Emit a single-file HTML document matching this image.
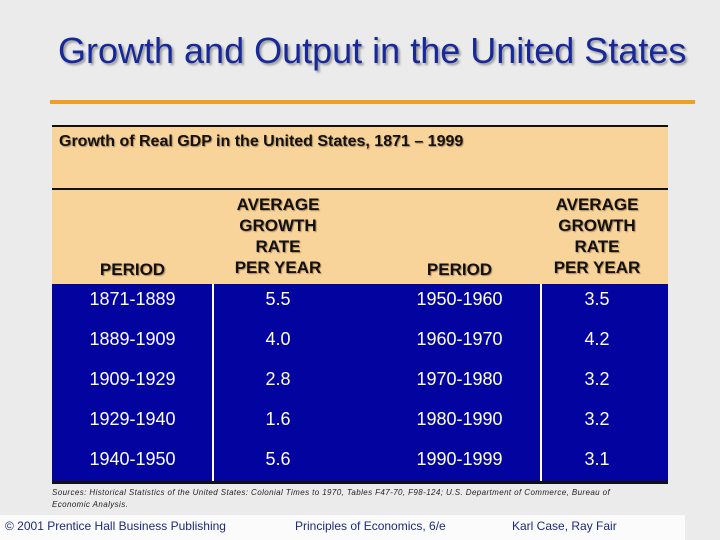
<!DOCTYPE html>
<html><head><meta charset="utf-8"><style>
body{margin:0;width:720px;height:540px;overflow:hidden;background:#ebebeb;font-family:"Liberation Sans",sans-serif;position:relative}
.a{position:absolute}
.t{font-size:36px;color:#16289a;text-shadow:2px 2px 2px #999;left:58px;top:30px;white-space:nowrap}
.hd{font-weight:bold;font-size:17px;color:#111;text-shadow:1px 1px 1px #b08850;text-align:center;line-height:21px}
.c{color:#fff;font-size:18px;text-align:center;line-height:40px}
.f{font-size:12px;color:#1a2a80;top:519px}
</style></head><body>
<div class="a t">Growth and Output in the United States</div>
<div class="a" style="left:50px;top:100px;width:645px;height:4px;background:#f0a020"></div>
<div class="a" style="left:52px;top:125px;width:616px;height:159px;background:#f8d49a;border-top:2px solid #111;box-sizing:border-box"></div>
<div class="a hd" style="left:59px;top:131px;font-size:16px">Growth of Real GDP in the United States, 1871 – 1999</div>
<div class="a" style="left:52px;top:188px;width:616px;height:2px;background:#111"></div>
<div class="a hd" style="left:52px;top:259px;width:161px">PERIOD</div>
<div class="a hd" style="left:213px;top:194px;width:130px">AVERAGE<br>GROWTH<br>RATE<br>PER YEAR</div>
<div class="a hd" style="left:378px;top:259px;width:163px">PERIOD</div>
<div class="a hd" style="left:541px;top:194px;width:112px">AVERAGE<br>GROWTH<br>RATE<br>PER YEAR</div>
<div class="a" style="left:52px;top:284px;width:616px;height:200px;background:#0303a0;border-bottom:3px solid #111;box-sizing:border-box"></div>
<div class="a" style="left:212px;top:284px;width:2px;height:197px;background:#fff"></div>
<div class="a" style="left:540px;top:284px;width:2px;height:197px;background:#fff"></div>
<div id="rows"></div>
<div class="a" style="left:52px;top:487px;width:585px;font-size:8px;letter-spacing:0.4px;font-style:italic;color:#222;line-height:12px">Sources: Historical Statistics of the United States: Colonial Times to 1970, Tables F47-70, F98-124; U.S. Department of Commerce, Bureau of Economic Analysis.</div>
<div class="a" style="left:0;top:515px;width:685px;height:25px;background:#fbfbfb"></div>
<div class="a f" style="left:5px">© 2001 Prentice Hall Business Publishing</div>
<div class="a f" style="left:295px">Principles of Economics, 6/e</div>
<div class="a f" style="left:512px">Karl Case, Ray Fair</div>
<script>
const periodsLeft=["1871-1889","1889-1909","1909-1929","1929-1940","1940-1950"];
const ratesLeft=["5.5","4.0","2.8","1.6","5.6"];
const periodsRight=["1950-1960","1960-1970","1970-1980","1980-1990","1990-1999"];
const ratesRight=["3.5","4.2","3.2","3.2","3.1"];
const cols=[[52,161,periodsLeft,'period-left'],[213,130,ratesLeft,'rate-left'],[378,163,periodsRight,'period-right'],[541,112,ratesRight,'rate-right']];
const root=document.getElementById('rows');
cols.forEach(([x,w,arr,n])=>arr.forEach((v,i)=>{
const el=document.createElement('div');
el.className='a c';
el.style.left=x+'px';el.style.width=w+'px';el.style.top=(279+i*40)+'px';
el.textContent=v;


root.appendChild(el);
}));
</script>
</body></html>
